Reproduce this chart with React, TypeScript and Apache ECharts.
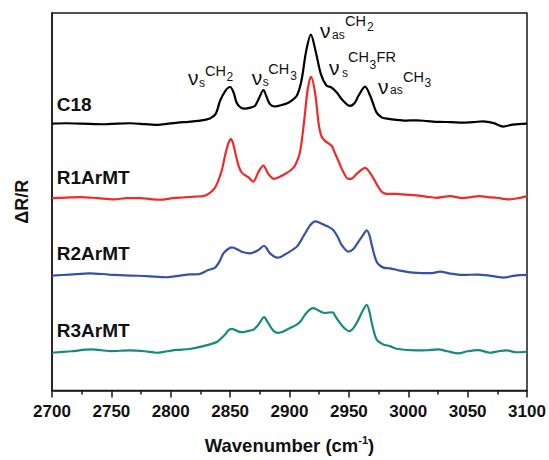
import React, { useEffect, useRef } from "react";
import * as echarts from "echarts";

// Wavenumbers (cm-1) and intensities (arbitrary units, above each trace's own baseline)
const wnC18 = [2700, 2712, 2725, 2744, 2755, 2766, 2778, 2789, 2798, 2806, 2815, 2823, 2833, 2838, 2841.5, 2846, 2850, 2853, 2855.5, 2859, 2862.5, 2867, 2871, 2874.5, 2878, 2881, 2883.6, 2887.8, 2893, 2899, 2906, 2910, 2914, 2918, 2922, 2926.5, 2931, 2935.5, 2940, 2944, 2951, 2955, 2958, 2963.6, 2968.6, 2973.4, 2978, 2982, 2990, 2998, 3007, 3016, 3026, 3036, 3046, 3055, 3063, 3072, 3080, 3088, 3100];
const c18 = [0, 0.3, 0, -0.7, 0, 0.3, -0.5, -1.3, 0, 1, 1.8, 2.7, 5.2, 10, 22.8, 33, 36.8, 31, 21, 16, 15, 16, 18, 26, 33.8, 26, 19.5, 17.2, 18.5, 21, 27.8, 42.8, 72.8, 89.5, 72.8, 49.5, 38.5, 36.2, 31, 24.5, 17.8, 21, 27.8, 37.2, 26, 11, 6, 5, 3.7, 3, 3.3, 2.5, 1.7, 1.5, 1, 1.5, 2.3, 0.5, -3, -1, 0];

const wnR1 = [2700, 2712, 2724, 2738, 2752, 2763, 2774, 2783, 2791, 2802, 2811, 2820, 2827.6, 2833, 2837, 2840, 2843, 2845.7, 2848.5, 2850.7, 2852.5, 2854.6, 2857, 2859.6, 2862.5, 2865.3, 2869.5, 2873.7, 2878, 2882.2, 2887.2, 2891, 2896.2, 2901, 2904.6, 2908.8, 2912.5, 2915.3, 2918.1, 2921.5, 2924.8, 2927, 2929.9, 2935.5, 2938, 2941.1, 2945, 2949.5, 2953, 2956.6, 2963.6, 2969.3, 2974.9, 2978, 2981.9, 2990, 2998, 3007, 3015, 3024, 3035, 3046, 3053, 3060, 3067, 3074, 3085, 3093, 3100];
const r1 = [0, 0.5, 1, 0, -1.3, 0, 0, -1, -1.7, 0, 0.7, 1.5, 2, 5.3, 10, 17.6, 28, 42.6, 55, 59.3, 55, 44.3, 33, 26, 23, 21, 16.6, 26, 32.6, 24.3, 19.3, 21, 24.3, 28, 32.6, 46, 79.3, 109.3, 122, 106, 72.6, 62, 57.6, 52.6, 46, 37.6, 27, 19.3, 20, 24.3, 30.3, 22.6, 11, 6, 4.3, 4.3, 3.5, 2.7, 1.5, 0.3, 2, 0, 1, 2, 1, 0.3, -1.3, 0, 2];

const wnR2 = [2700, 2715, 2732, 2748, 2766, 2780, 2796.5, 2808, 2816, 2823, 2831.6, 2837.3, 2841, 2844.3, 2848, 2851.4, 2856, 2859.8, 2866.7, 2873.7, 2878.6, 2881, 2883.6, 2889.8, 2893, 2897.7, 2906.1, 2909.5, 2913.1, 2917, 2921.5, 2925, 2928.6, 2933, 2937, 2941, 2944, 2949.6, 2954, 2958, 2962, 2965, 2967.5, 2969.3, 2973.4, 2979, 2984.6, 2993, 3001.5, 3012, 3020, 3026.7, 3035, 3046, 3058, 3068, 3080, 3090, 3100];
const r2 = [0, 1, 2.3, 1, 0, -0.5, -1.7, 0, 1.2, 1.3, 5.6, 8, 14, 22.3, 26.5, 28.3, 26.5, 24, 22.3, 25.6, 30, 27, 22.3, 18, 19, 22.3, 29, 35, 42.3, 50, 54.6, 53.5, 51.3, 49, 45.6, 38, 30.6, 24, 27, 34, 41, 45.6, 40, 30.6, 14, 8, 7.3, 5, 3.3, 2.5, 2.5, 4, 2, 0.6, 1, 0, -2, 0, 0.6];

const wnR3 = [2700, 2716, 2733.4, 2748.8, 2765.7, 2778, 2788, 2797, 2805, 2816, 2827.4, 2838.6, 2842, 2845.7, 2848.5, 2851.4, 2855, 2858, 2861.2, 2865, 2869.7, 2873.9, 2878.7, 2881, 2883.7, 2887, 2890.6, 2895, 2899, 2906.1, 2909.5, 2913.1, 2916.5, 2920.1, 2925.7, 2929.9, 2933, 2936.4, 2939, 2942.5, 2946, 2950.4, 2954, 2958, 2962, 2965, 2967.2, 2969.3, 2973.4, 2979, 2984.6, 2990, 3007, 3016, 3025, 3033, 3042, 3050, 3059, 3069, 3076, 3083, 3091, 3100];
const r3 = [-1, 0.5, 2.3, 0.7, 1.3, 0.5, -1, 0.5, 1.8, 2.8, 5.7, 9.7, 13, 17.3, 21.5, 23, 21.5, 20, 19.7, 21, 22.3, 27.3, 35, 31, 25.7, 20.5, 19, 20.5, 23, 27.3, 31, 37.3, 42, 44, 40.7, 39, 39.5, 39.7, 35, 29, 24, 20.7, 24, 32.3, 42, 47.3, 41, 29, 12.3, 7.3, 5.7, 3, 1.3, 1.5, 2.3, 0.5, -1.7, 0.5, 1.7, -1, 0.5, 1.3, -0.5, 0];

const seriesNames = ["C18", "R1ArMT", "R2ArMT", "R3ArMT"];
const seriesOffsets = [268.7, 193.7, 115.7, 39];
const seriesColors = ["#000000", "#ee2a2a", "#3552a5", "#17897f"];
const seriesX = [wnC18, wnR1, wnR2, wnR3];
const seriesY = [c18, r1, r2, r3];
// label anchor [wavenumber, value]
const nameAnchors = [[2704, 288], [2704, 214.5], [2704, 138], [2704, 60]];

// peak assignment labels: anchor [wn, value], pieces [text, dx, dy, fontSize]
const FS_NU = 21, FS_MAIN = 14.5, FS_SUB = 12;
const peakLabels: { at: number[]; parts: [string, number, number, number][] }[] = [
  { at: [2814.5, 315], parts: [["ν", 0, 0, FS_NU], ["s", 11, 5, FS_SUB], ["CH", 17, -7, FS_MAIN], ["2", 38.5, -0.5, FS_SUB]] },
  { at: [2868.2, 315.5], parts: [["ν", 0, 0, FS_NU], ["s", 11, 5, FS_SUB], ["CH", 16.5, -8.5, FS_MAIN], ["3", 38.5, -1, FS_SUB]] },
  { at: [2925.7, 362], parts: [["ν", 0, 0, FS_NU], ["as", 12, 4, FS_SUB], ["CH", 25, -10, FS_MAIN], ["2", 47, -3.5, FS_SUB]] },
  { at: [2933.3, 325], parts: [["ν", 0, 0, FS_NU], ["s", 13, 5, FS_SUB], ["CH", 19, -10.5, FS_MAIN], ["3", 40.5, -3, FS_SUB], ["FR", 47.5, -10.5, FS_MAIN]] },
  { at: [2974.5, 306], parts: [["ν", 0, 0, FS_NU], ["as", 12, 3, FS_SUB], ["CH", 25, -9.5, FS_MAIN], ["3", 46.5, -4, FS_SUB]] },
];

const FONT = "Arial, 'Liberation Sans', Helvetica, sans-serif";

export default function App() {
  const ref = useRef<HTMLDivElement>(null);
  useEffect(() => {
    document.body.style.margin = "0";
    const chart = echarts.init(ref.current!, null, { renderer: "svg" });
    const option: any = {
      animation: false,
      backgroundColor: "#ffffff",
      grid: { left: 52, right: 22, top: 13, bottom: 66, show: true, borderColor: "#1a1a1a", borderWidth: 1.5, backgroundColor: "transparent" },
      xAxis: {
        type: "value",
        min: 2700,
        max: 3100,
        interval: 50,
        name: "Wavenumber (cm{sup|-1})",
        nameLocation: "middle",
        nameGap: 44,
        nameTextStyle: {
          fontFamily: FONT, fontSize: 18.5, fontWeight: "bold", color: "#111",
          rich: { sup: { fontFamily: FONT, fontSize: 11, fontWeight: "bold", color: "#111", verticalAlign: "top", lineHeight: 22 } },
        },
        axisLine: { show: true, lineStyle: { color: "#1a1a1a", width: 1.5 } },
        axisTick: { show: true, inside: false, length: 7, lineStyle: { color: "#1a1a1a", width: 1.5 } },
        minorTick: { show: true, splitNumber: 2, length: 4, lineStyle: { color: "#1a1a1a", width: 1.5 } },
        splitLine: { show: false },
        axisLabel: { fontFamily: FONT, fontSize: 17, fontWeight: "bold", color: "#111", margin: 12, formatter: (v: number) => String(v) },
      },
      yAxis: {
        type: "value",
        min: 0,
        max: 380,
        name: "ΔR/R",
        nameLocation: "middle",
        nameGap: 21,
        nameRotate: 90,
        nameTextStyle: { fontFamily: FONT, fontSize: 18, fontWeight: "bold", color: "#111" },
        axisLine: { show: true, lineStyle: { color: "#1a1a1a", width: 1.5 } },
        axisTick: { show: false },
        axisLabel: { show: false },
        splitLine: { show: false },
      },
      series: seriesNames.map((n, i) => ({
        name: n,
        type: "line",
        showSymbol: false,
        smooth: 0.3,
        lineStyle: { color: seriesColors[i], width: 2.2 },
        itemStyle: { color: seriesColors[i] },
        data: seriesX[i].map((x, j) => [x, seriesY[i][j] + seriesOffsets[i]]),
      })),
    };
    chart.setOption(option);

    const graphics: any[] = [];
    nameAnchors.forEach((a, i) => {
      const [px, py] = chart.convertToPixel({ gridIndex: 0 }, a) as number[];
      graphics.push({
        type: "text", x: px, y: py,
        style: { text: seriesNames[i], fontFamily: FONT, fontSize: 19, fontWeight: "bold", fill: "#111", align: "left", verticalAlign: "middle" },
      });
    });
    peakLabels.forEach((lab) => {
      const [px, py] = chart.convertToPixel({ gridIndex: 0 }, lab.at) as number[];
      graphics.push({
        type: "group", x: px, y: py,
        children: lab.parts.map(([t, dx, dy, fs]) => ({
          type: "text", x: dx, y: dy,
          style: { text: t, fontFamily: FONT, fontSize: fs, fill: "#111", align: "left", verticalAlign: "middle" },
        })),
      });
    });
    chart.setOption({ graphic: graphics });
    return () => chart.dispose();
  }, []);
  return <div ref={ref} style={{ width: 549, height: 460, position: "absolute", left: 0, top: 0 }} />;
}
